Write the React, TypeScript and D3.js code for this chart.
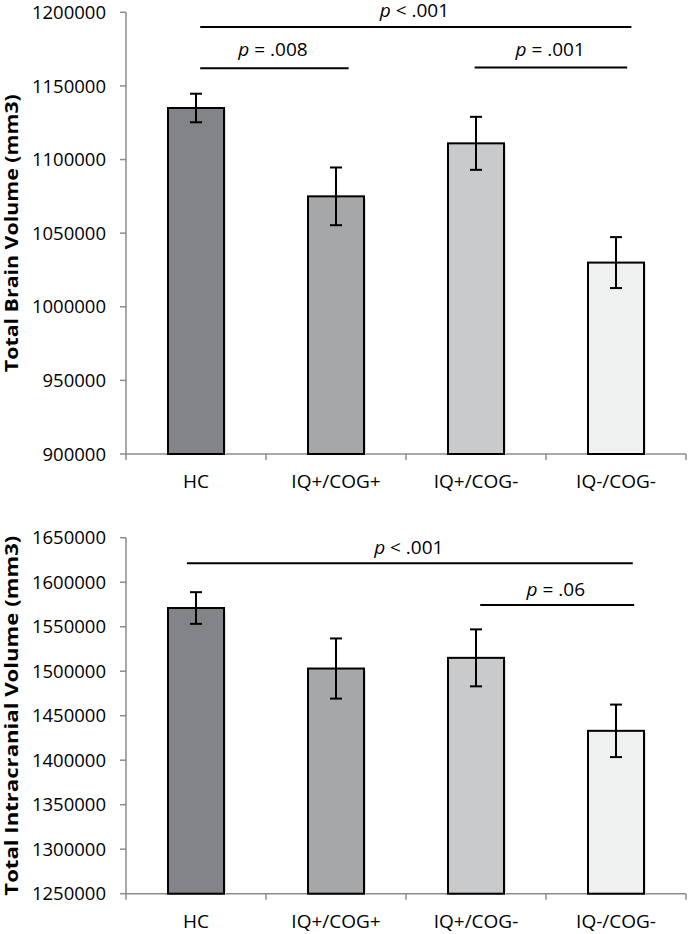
import React from "react";
import * as d3 from "d3";

const categories = ["HC", "IQ+/COG+", "IQ+/COG-", "IQ-/COG-"];
const barColors = ["#838487", "#a6a7a9", "#c9cacc", "#eff0f0"];

const brainMeans = [1135000, 1075000, 1111000, 1030000];
const brainErrors = [9700, 19600, 18000, 17300];
const brainTicks = [900000, 950000, 1000000, 1050000, 1100000, 1150000, 1200000];

const icvMeans = [1571000, 1503000, 1515000, 1433000];
const icvErrors = [17800, 33800, 32000, 29500];
const icvTicks = [1250000, 1300000, 1350000, 1400000, 1450000, 1500000, 1550000, 1600000, 1650000];

// significance annotations: from/to as fractional category index, line value, label value, label center
const brainSigLabels = ["< .001", "= .008", "= .001"];
const brainSigFrom = [0.03, 0.03, 1.99];
const brainSigTo = [3.11, 1.09, 3.08];
const brainSigLine = [1190000, 1162000, 1162500];
const brainSigText = [1196500, 1170300, 1170000];
const brainSigTextAt = [1.56, 0.55, 2.53];

const icvSigLabels = ["< .001", "= .06"];
const icvSigFrom = [-0.065, 2.03];
const icvSigTo = [3.12, 3.13];
const icvSigLine = [1621200, 1574400];
const icvSigText = [1631700, 1584500];
const icvSigTextAt = [1.52, 2.57];

const FONT = "'Open Sans', 'Liberation Sans', sans-serif";

type PanelProps = {
  top: number;
  bottom: number;
  domain: [number, number];
  ticks: number[];
  means: number[];
  errors: number[];
  title: string;
  titleLength: number;
  sigLabels: string[];
  sigFrom: number[];
  sigTo: number[];
  sigLine: number[];
  sigText: number[];
  sigTextAt: number[];
};

function Panel(p: PanelProps) {
  const left = 126;
  const right = 686;
  const x = d3.scaleBand<string>().domain(categories).range([left, right]).paddingInner(0).paddingOuter(0);
  const y = d3.scaleLinear().domain(p.domain).range([p.bottom, p.top]);
  const step = x.step();
  const bw = step * 0.4;
  const center = (c: string) => (x(c) as number) + step / 2;
  const idx = d3.scaleLinear().domain([0, 1]).range([left + step / 2, left + step * 1.5]);
  const axisColor = "#8c8c8c";
  const capW = 12;
  return (
    <g>
      {/* y axis */}
      <line x1={left} x2={left} y1={p.top} y2={p.bottom} stroke={axisColor} strokeWidth={1.5} />
      {p.ticks.map((t) => (
        <g key={t}>
          <line x1={left - 6} x2={left} y1={y(t)} y2={y(t)} stroke={axisColor} strokeWidth={1.5} />
          <text x={106} y={y(t)} dy="0.36em" textAnchor="end" fontFamily={FONT} fontSize={18.5} fill="#000">
            {t}
          </text>
        </g>
      ))}
      {/* x axis */}
      <line x1={left} x2={right} y1={p.bottom} y2={p.bottom} stroke={axisColor} strokeWidth={1.5} />
      {d3.range(categories.length + 1).map((i) => (
        <line key={i} x1={left + step * i} x2={left + step * i} y1={p.bottom} y2={p.bottom + 6} stroke={axisColor} strokeWidth={1.5} />
      ))}
      {categories.map((c) => (
        <text key={c} x={center(c)} y={p.bottom + 34} textAnchor="middle" fontFamily={FONT} fontSize={19} fill="#000">
          {c}
        </text>
      ))}
      {/* bars */}
      {categories.map((c, i) => {
        const x0 = center(c) - bw / 2;
        const yt = y(p.means[i]);
        return (
          <g key={c}>
            <rect x={x0 + 2} y={yt + 2} width={bw} height={p.bottom - yt - 2} fill="#e0e0e0" />
            <rect x={x0} y={yt} width={bw} height={p.bottom - yt} fill={barColors[i]} stroke="#000" strokeWidth={2} />
          </g>
        );
      })}
      {/* error bars */}
      {categories.map((c, i) => {
        const cx = center(c);
        const hi = y(p.means[i] + p.errors[i]);
        const lo = y(p.means[i] - p.errors[i]);
        return (
          <g key={c} stroke="#000" strokeWidth={2}>
            <line x1={cx} x2={cx} y1={hi} y2={lo} />
            <line x1={cx - capW / 2} x2={cx + capW / 2} y1={hi} y2={hi} />
            <line x1={cx - capW / 2} x2={cx + capW / 2} y1={lo} y2={lo} />
          </g>
        );
      })}
      {/* significance */}
      {p.sigLabels.map((s, i) => (
        <g key={i}>
          <line x1={idx(p.sigFrom[i])} x2={idx(p.sigTo[i])} y1={y(p.sigLine[i])} y2={y(p.sigLine[i])} stroke="#000" strokeWidth={2} />
          <text x={idx(p.sigTextAt[i])} y={y(p.sigText[i])} textAnchor="middle" fontFamily={FONT} fontSize={19} fill="#000">
            <tspan fontStyle="italic">p</tspan>
            <tspan> {s}</tspan>
          </text>
        </g>
      ))}
      {/* y title */}
      <text
        transform={`translate(18,${(p.top + p.bottom) / 2}) rotate(-90)`}
        textAnchor="middle"
        fontFamily={FONT}
        fontWeight="bold"
        fontSize={18}
        textLength={p.titleLength}
        lengthAdjust="spacingAndGlyphs"
        fill="#000"
      >
        {p.title}
      </text>
    </g>
  );
}

export default function App() {
  return (
    <svg width={700} height={934} style={{ position: "absolute", left: 0, top: 0, background: "#fff" }}>
      <rect width={700} height={934} fill="#fff" />
      <Panel
        top={12.3}
        bottom={454}
        domain={[900000, 1200000]}
        ticks={brainTicks}
        means={brainMeans}
        errors={brainErrors}
        title="Total Brain Volume (mm3)"
        titleLength={278}
        sigLabels={brainSigLabels}
        sigFrom={brainSigFrom}
        sigTo={brainSigTo}
        sigLine={brainSigLine}
        sigText={brainSigText}
        sigTextAt={brainSigTextAt}
      />
      <Panel
        top={537.7}
        bottom={893.7}
        domain={[1250000, 1650000]}
        ticks={icvTicks}
        means={icvMeans}
        errors={icvErrors}
        title="Total Intracranial Volume (mm3)"
        titleLength={360}
        sigLabels={icvSigLabels}
        sigFrom={icvSigFrom}
        sigTo={icvSigTo}
        sigLine={icvSigLine}
        sigText={icvSigText}
        sigTextAt={icvSigTextAt}
      />
    </svg>
  );
}
